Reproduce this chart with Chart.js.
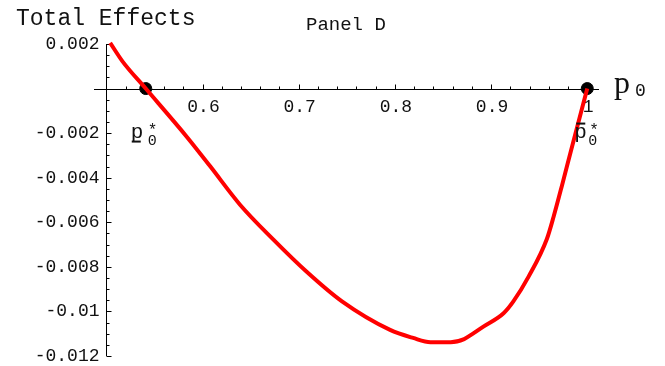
<!DOCTYPE html>
<html>
<head>
<meta charset="utf-8">
<script src="https://cdn.jsdelivr.net/npm/chart.js@4.4.1/dist/chart.umd.min.js"></script>
<style>
  body { margin: 0; background: #fff; }
  #wrap { width: 665px; height: 366px; }
</style>
</head>
<body>
<div id="wrap"><canvas id="panelD" width="665" height="366"></canvas></div>
<script>
// total effects curve against p0
const pValues = [0.504, 0.517, 0.541, 0.584, 0.608, 0.639, 0.674, 0.708, 0.745, 0.795,
  0.819, 0.837, 0.858, 0.872, 0.880, 0.892, 0.913, 0.923, 0.939, 0.958,
  0.965, 0.974, 0.983, 1.0];
const effectValues = [0.00205, 0.00121, 0, -0.00218, -0.00349, -0.00521, -0.00679, -0.00821, -0.00955, -0.01083,
  -0.01119, -0.01138, -0.01138, -0.01124, -0.01103, -0.01068, -0.01008, -0.00956, -0.00844, -0.00675,
  -0.00575, -0.0043, -0.0028, 0];

// the two roots marked with dots
const rootP = [0.541, 1.0];
const rootEffect = [0, 0];

const xTickValues = [0.6, 0.7, 0.8, 0.9, 1.0];
const xTickLabels = ['0.6', '0.7', '0.8', '0.9', '1'];
const yTickValues = [0.002, -0.002, -0.004, -0.006, -0.008, -0.01, -0.012];
const yTickLabels = ['0.002', '-0.002', '-0.004', '-0.006', '-0.008', '-0.01', '-0.012'];

const MONO = '"Liberation Mono", "DejaVu Sans Mono", monospace';
const SERIF = '"Liberation Serif", "DejaVu Serif", serif';

// mathematica style axes crossing at (0.5, 0)
const axesPlugin = {
  id: 'crossAxes',
  beforeDatasetsDraw(chart) {
    const ctx = chart.ctx;
    const xs = chart.scales.x, ys = chart.scales.y;
    const y0 = Math.round(ys.getPixelForValue(0)) + 0.5;
    const x0 = Math.round(xs.getPixelForValue(0.5)) + 0.5;
    ctx.save();
    ctx.strokeStyle = '#000';
    ctx.lineWidth = 1;
    ctx.beginPath();
    ctx.moveTo(chart.chartArea.left, y0);
    ctx.lineTo(chart.chartArea.right, y0);
    ctx.moveTo(x0, ys.getPixelForValue(0.002));
    ctx.lineTo(x0, ys.getPixelForValue(-0.012));
    // x ticks, every 0.02, longer on the tenths
    for (let i = 1; i <= 25; i++) {
      const v = 0.5 + i * 0.02;
      const px = Math.round(xs.getPixelForValue(v)) + 0.5;
      const len = (i % 5 === 0) ? 5 : 3;
      ctx.moveTo(px, y0);
      ctx.lineTo(px, y0 - len);
    }
    // y ticks, every 0.0005
    for (let i = 0; i <= 28; i++) {
      const v = 0.002 - i * 0.0005;
      if (i === 4) continue;
      const py = Math.round(ys.getPixelForValue(v)) + 0.5;
      const len = (i % 4 === 0) ? 5 : 3;
      ctx.moveTo(x0, py);
      ctx.lineTo(x0 + len, py);
    }
    ctx.stroke();

    ctx.fillStyle = '#111';
    ctx.font = '18px ' + MONO;
    ctx.textAlign = 'center';
    ctx.textBaseline = 'alphabetic';
    xTickValues.forEach((v, i) => {
      ctx.fillText(xTickLabels[i], xs.getPixelForValue(v) + 1, y0 + 22);
    });
    ctx.textAlign = 'right';
    yTickValues.forEach((v, i) => {
      ctx.fillText(yTickLabels[i], x0 - 7, ys.getPixelForValue(v) + 5);
    });
    ctx.restore();
  },
  afterDraw(chart) {
    const ctx = chart.ctx;
    const xs = chart.scales.x, ys = chart.scales.y;
    const y0 = ys.getPixelForValue(0);
    ctx.save();
    ctx.fillStyle = '#111';
    ctx.textBaseline = 'alphabetic';
    ctx.textAlign = 'left';

    ctx.font = '23px ' + MONO;
    ctx.fillText('Total Effects', 16, 25);
    ctx.font = '19px ' + MONO;
    ctx.fillText('Panel D', 306, 30);

    // axis name p0
    ctx.font = '32px ' + SERIF;
    ctx.fillText('p', 614, 93);
    ctx.font = '18px ' + MONO;
    ctx.fillText('0', 635, 96);

    // lower root: underlined p
    const lx = xs.getPixelForValue(rootP[0]);
    ctx.font = '21px ' + MONO;
    ctx.fillText('p', lx - 15, y0 + 49);
    ctx.fillRect(lx - 14, y0 + 52, 9, 2);
    ctx.font = '15px ' + MONO;
    ctx.fillText('0', lx + 2, y0 + 56);
    ctx.font = '16px ' + MONO;
    ctx.fillText('*', lx + 2, y0 + 46);

    // upper root: overlined p
    const rx = xs.getPixelForValue(rootP[1]);
    ctx.font = '21px ' + MONO;
    ctx.fillText('p', rx - 13, y0 + 49);
    ctx.fillRect(rx - 11, y0 + 34, 9, 2);
    ctx.font = '15px ' + MONO;
    ctx.fillText('0', rx + 1, y0 + 56);
    ctx.font = '16px ' + MONO;
    ctx.fillText('*', rx + 2, y0 + 46);
    ctx.restore();
  }
};

new Chart(document.getElementById('panelD').getContext('2d'), {
  type: 'scatter',
  data: {
    datasets: [
      {
        data: pValues.map((p, i) => ({ x: p, y: effectValues[i] })),
        showLine: true,
        borderColor: '#ff0000',
        borderWidth: 4,
        pointRadius: 0,
        cubicInterpolationMode: 'monotone',
        clip: false
      },
      {
        data: rootP.map((p, i) => ({ x: p, y: rootEffect[i] })),
        backgroundColor: '#000',
        borderColor: '#000',
        pointRadius: 6,
        clip: false
      }
    ]
  },
  plugins: [axesPlugin],
  options: {
    responsive: false,
    devicePixelRatio: 1,
    animation: false,
    layout: { padding: { left: 94, right: 66, top: 44, bottom: 10 } },
    plugins: { legend: { display: false }, tooltip: { enabled: false } },
    scales: {
      x: { type: 'linear', min: 0.4872, max: 1.0122, display: false },
      y: { type: 'linear', min: -0.012, max: 0.002, display: false }
    }
  }
});
</script>
</body>
</html>
